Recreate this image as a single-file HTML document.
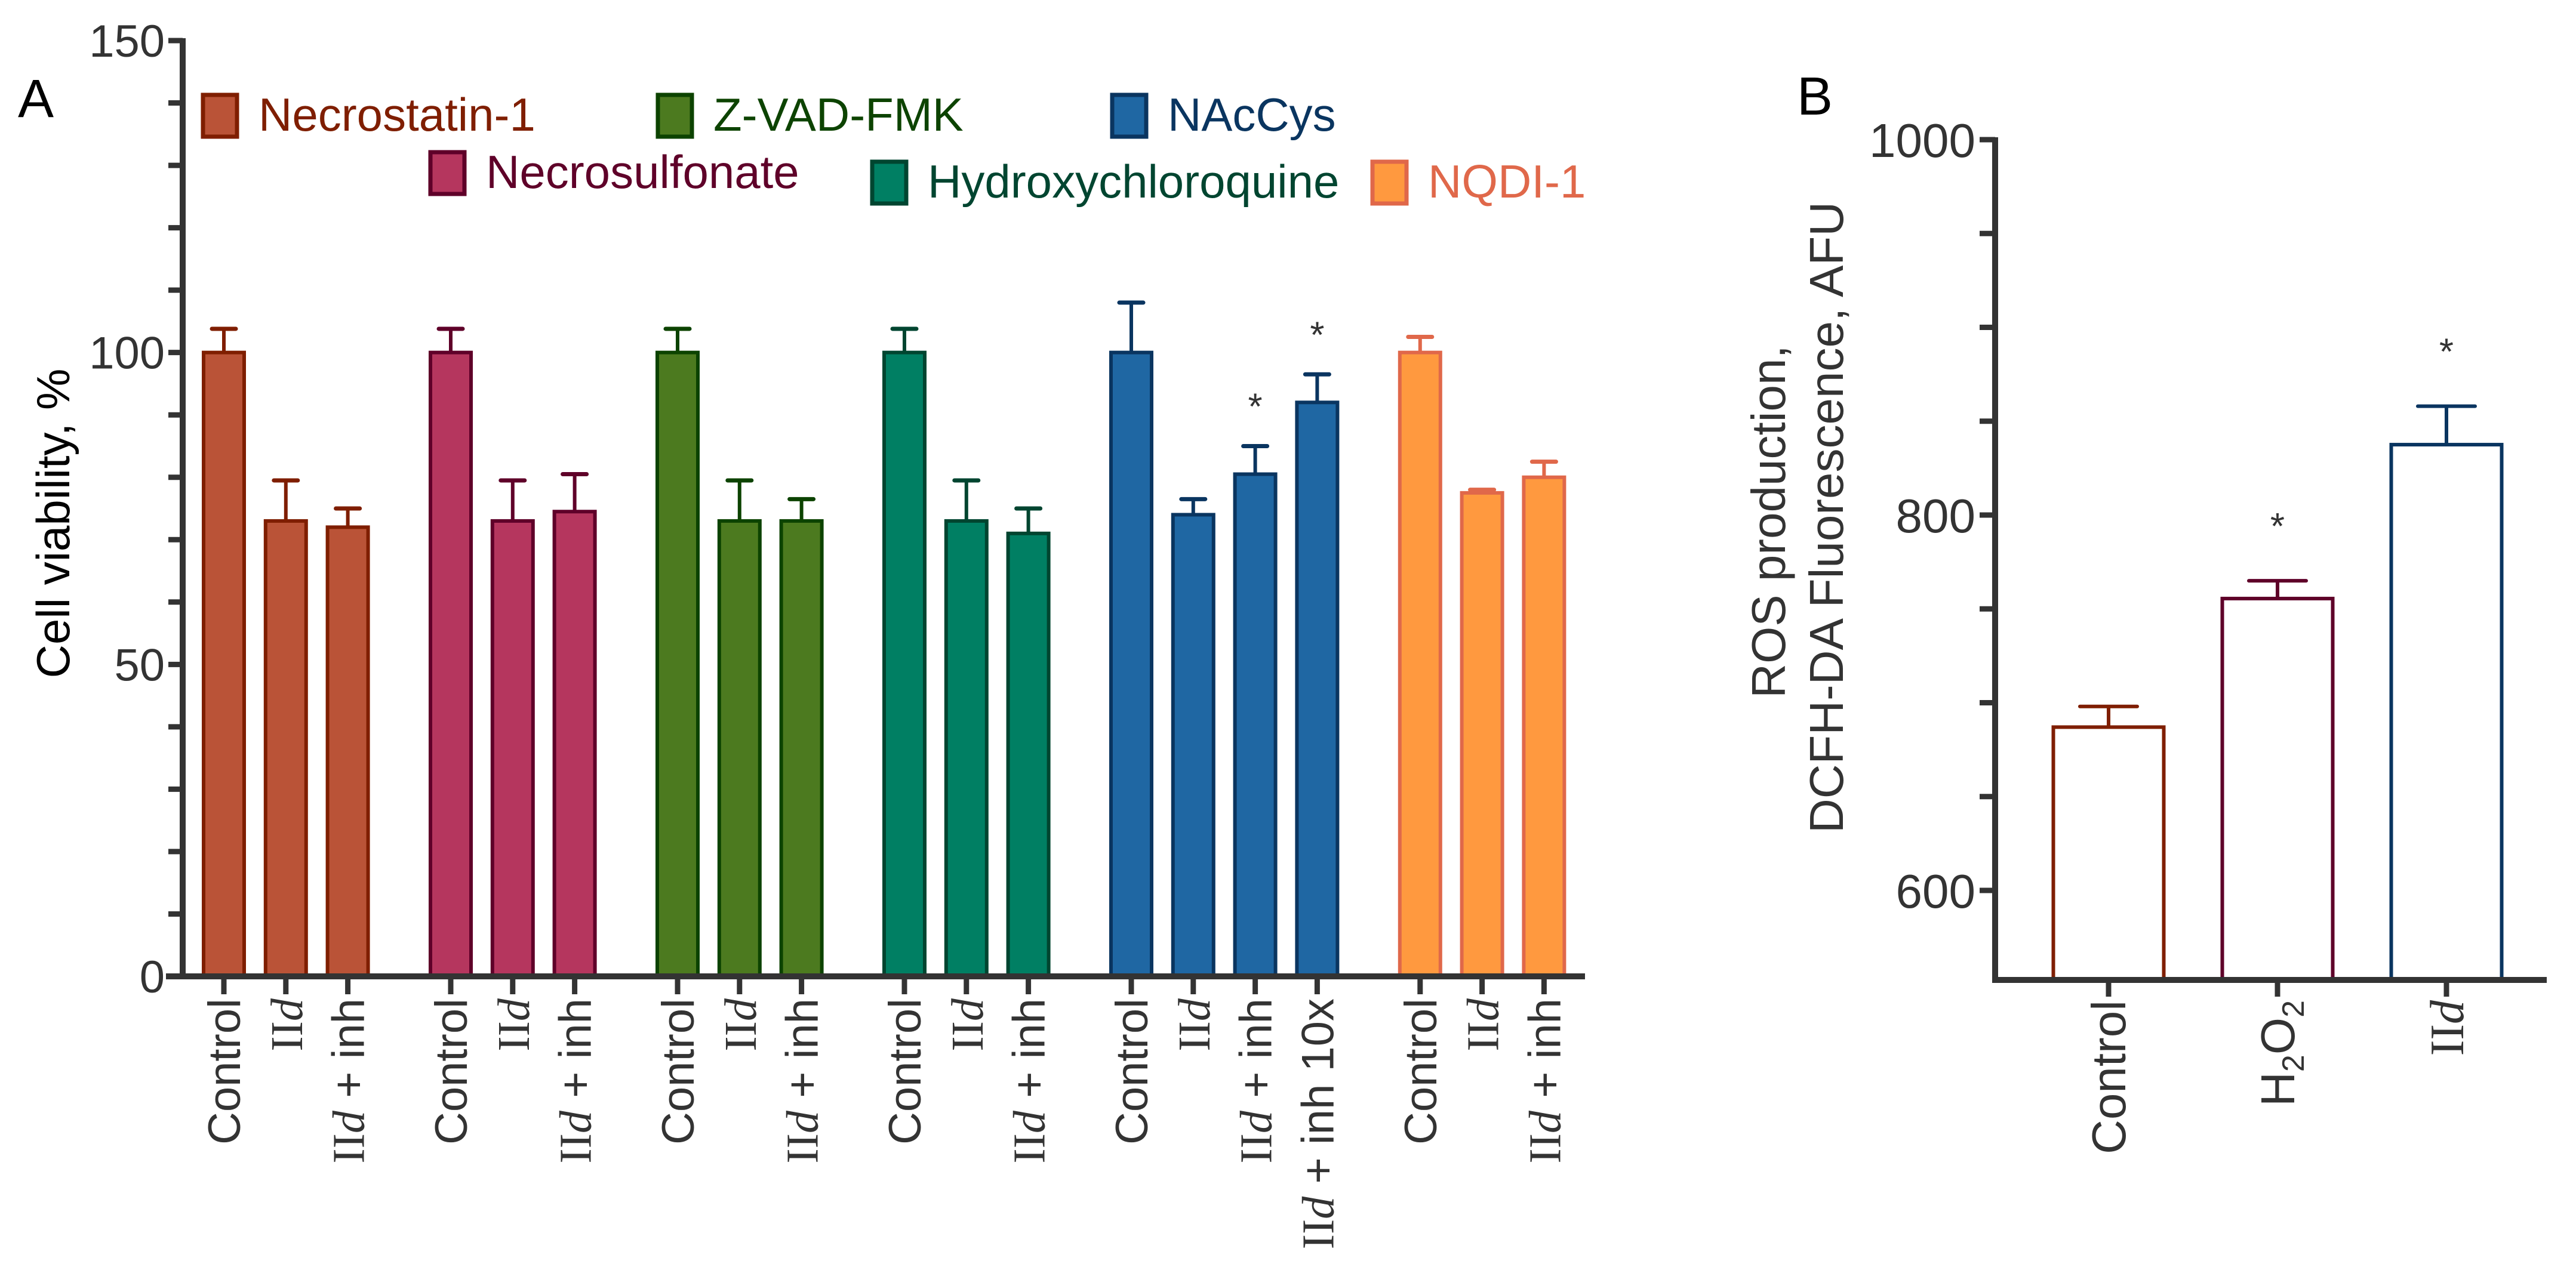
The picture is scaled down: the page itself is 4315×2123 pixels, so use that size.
<!DOCTYPE html>
<html><head><meta charset="utf-8"><style>
html,body{margin:0;padding:0;background:#fff}
svg{display:block}
text{font-family:"Liberation Sans",Arial,sans-serif}
</style></head><body>
<svg id="fig" xmlns="http://www.w3.org/2000/svg" width="4315" height="2123" viewBox="0 0 4315 2123">
<g id="pa"></g>
<g id="pb"></g>
</svg>
<script>
// Panel A data
const groupNames = ["Necrostatin-1","Necrosulfonate","Z-VAD-FMK","Hydroxychloroquine","NAcCys","NQDI-1"];
const groupLabels = [["Control","IId","IId + inh"],["Control","IId","IId + inh"],["Control","IId","IId + inh"],["Control","IId","IId + inh"],["Control","IId","IId + inh","IId + inh 10x"],["Control","IId","IId + inh"]];
const groupMeans = [[100,73,72],[100,73,74.5],[100,73,73],[100,73,71],[100,74,80.5,92],[100,77.5,80]];
const groupErrs = [[3.8,6.5,3],[3.8,6.5,6],[3.8,6.5,3.5],[3.8,6.5,4],[8,2.5,4.5,4.5],[2.5,0.5,2.5]];
const groupStars = [[0,0,0],[0,0,0],[0,0,0],[0,0,0],[0,0,1,1],[0,0,0]];
const yTicksA = [0,50,100,150];
// Panel B data
const bCats = ["Control","H2O2","IId"];
const bMeans = [687,755.5,837.5];
const bErrs = [11,9.5,20.5];
const bStars = [0,1,1];
const yTicksB = [600,800,1000];

const NS="http://www.w3.org/2000/svg";
function mk(tag,attrs,parent){const e=document.createElementNS(NS,tag);for(const k in attrs)e.setAttribute(k,attrs[k]);parent.appendChild(e);return e;}
const fills=["#BA5337","#B5365E","#4C7A1F","#007F63","#1F67A3","#FF993F"];
const strokes=["#7F1E00","#5F0029","#0C4300","#004530","#0A3560","#E0684A"];
const axisC="#333";

function addLabel(parent,txt,x,y,size){
  const t=mk('text',{x:0,y:0,'font-size':size,fill:axisC,'text-anchor':'end',transform:`translate(${x},${y}) rotate(-90)`},parent);
  
  
  const parts=txt.split(/(IId|H2O2)/);
  parts.forEach(p=>{
    if(p==="IId"){
      const a=mk('tspan',{'font-family':'Liberation Serif, serif'},t);a.textContent="II";
      const b=mk('tspan',{'font-family':'Liberation Serif, serif','font-style':'italic'},t);b.textContent="d";
    } else if(p==="H2O2"){
      const a=mk('tspan',{},t);a.textContent="H";
      const b=mk('tspan',{'font-size':size*0.65,dy:size*0.2},t);b.textContent="2";
      const c=mk('tspan',{dy:-size*0.2},t);c.textContent="O";
      const d=mk('tspan',{'font-size':size*0.65,dy:size*0.2},t);d.textContent="2";
    } else if(p){const s=mk('tspan',{},t);s.textContent=p;}
  });
}

// ---------- Panel A ----------
const pa=document.getElementById('pa');
const axA={x:306,y0:1636,yTop:68,min:0,max:150,xEnd:2655};
const yA=v=>axA.y0-(v-axA.min)/(axA.max-axA.min)*(axA.y0-axA.yTop);
const xA=(i,g)=>375+i*103.8+g*68.6;
const bw=68;
// ticks
for(let v=0;v<=150;v+=10){
  const l=mk('line',{x1:axA.x-24,x2:axA.x,y1:yA(v),y2:yA(v),stroke:axisC,'stroke-width':9},pa);
  
  
}
yTicksA.forEach(v=>{
  const t=mk('text',{x:axA.x-30,y:yA(v)+27,'font-size':76,fill:axisC,'text-anchor':'end'},pa);
  
  
  t.textContent=v;
});
let idx=0;
groupMeans.forEach((arr,g)=>{
  arr.forEach((m,k)=>{
    const cx=xA(idx,g);
    const e=groupErrs[g][k];
    const el=mk('line',{x1:cx,x2:cx,y1:yA(m),y2:yA(m+e),stroke:strokes[g],'stroke-width':6},pa);
    
    
    const ec=mk('line',{x1:cx-20,x2:cx+20,y1:yA(m+e),y2:yA(m+e),stroke:strokes[g],'stroke-width':7,'stroke-linecap':'round'},pa);
    
    
    const r=mk('rect',{x:cx-bw/2,y:yA(m),width:bw,height:yA(0)-yA(m),fill:fills[g],stroke:strokes[g],'stroke-width':6},pa);
    
    
    if(groupStars[g][k]){
      const s=mk('text',{x:cx,y:yA(m+e)-45,'font-size':62,fill:axisC,'text-anchor':'middle'},pa);
      
      
      s.textContent="*";
    }
    const tk=mk('line',{x1:cx,x2:cx,y1:axA.y0,y2:axA.y0+30,stroke:axisC,'stroke-width':9},pa);
    
    
    addLabel(pa,groupLabels[g][k],cx+27,1673,76);
    idx++;
  });
});
const ya=mk('line',{x1:axA.x,x2:axA.x,y1:axA.yTop-4,y2:axA.y0+5,stroke:axisC,'stroke-width':10},pa);


const xa=mk('line',{x1:278,x2:axA.xEnd,y1:axA.y0,y2:axA.y0,stroke:axisC,'stroke-width':10},pa);


const yt=mk('text',{x:0,y:0,'font-size':78,fill:'#000','text-anchor':'middle',transform:'translate(116,877) rotate(-90)'},pa);


yt.textContent="Cell viability, %";
const la=mk('text',{x:30,y:196,'font-size':90,fill:'#000'},pa);


la.textContent="A";
// legend
const legPos=[[337,156],[718,252],[1099,156],[1458,268],[1860,156],[2296,268]];
groupNames.forEach((n,g)=>{
  const [lx,ly]=legPos[g];
  const gr=mk('g',{},pa);
  
  
  mk('rect',{x:lx+3,y:ly+3,width:57,height:70,fill:fills[g],stroke:strokes[g],'stroke-width':7},gr);
  const t=mk('text',{x:lx+96,y:ly+63,'font-size':78,fill:strokes[g]},gr);
  t.textContent=n;
});

// ---------- Panel B ----------
const pb=document.getElementById('pb');
const axB={x:3342,y600:1492,y800:863,y0:1642,xEnd:4266};
const yB=v=>axB.y600-(v-600)/200*(axB.y600-axB.y800);
const bxs=i=>3532+i*283;
const bbw=185;
for(let v=550;v<=1000;v+=50){
  if(yB(v)>axB.y0+1)continue;
  const l=mk('line',{x1:axB.x-26,x2:axB.x,y1:yB(v),y2:yB(v),stroke:axisC,'stroke-width':9},pb);
  
  
}
yTicksB.forEach(v=>{
  const t=mk('text',{x:axB.x-33,y:yB(v)+29,'font-size':80,fill:axisC,'text-anchor':'end'},pb);
  
  
  t.textContent=v;
});
const bStroke=["#7F1E00","#5F0029","#0A3560"];
bMeans.forEach((m,i)=>{
  const cx=bxs(i);
  const e=bErrs[i];
  const el=mk('line',{x1:cx,x2:cx,y1:yB(m),y2:yB(m+e),stroke:bStroke[i],'stroke-width':6},pb);
  
  
  const ec=mk('line',{x1:cx-48,x2:cx+48,y1:yB(m+e),y2:yB(m+e),stroke:bStroke[i],'stroke-width':6,'stroke-linecap':'round'},pb);
  
  
  const r=mk('rect',{x:cx-bbw/2,y:yB(m),width:bbw,height:axB.y0-yB(m),fill:'#fff',stroke:bStroke[i],'stroke-width':6},pb);
  
  
  if(bStars[i]){
    const s=mk('text',{x:cx,y:yB(m+e)-70,'font-size':62,fill:axisC,'text-anchor':'middle'},pb);
    
    
    s.textContent="*";
  }
  const tk=mk('line',{x1:cx,x2:cx,y1:axB.y0,y2:axB.y0+28,stroke:axisC,'stroke-width':9},pb);
  
  
  addLabel(pb,bCats[i],cx+28,1676,80);
});
const yb=mk('line',{x1:axB.x,x2:axB.x,y1:yB(1000)-4,y2:axB.y0+5,stroke:axisC,'stroke-width':10},pb);


const xb=mk('line',{x1:axB.x-5,x2:axB.xEnd,y1:axB.y0,y2:axB.y0,stroke:axisC,'stroke-width':10},pb);


const t1=mk('text',{x:0,y:0,'font-size':80,fill:axisC,'text-anchor':'middle',transform:'translate(2990,874) rotate(-90)'},pb);


t1.textContent="ROS production,";
const t2=mk('text',{x:0,y:0,'font-size':80,fill:axisC,'text-anchor':'middle',transform:'translate(3087,867) rotate(-90)'},pb);


t2.textContent="DCFH-DA Fluorescence, AFU";
const lb=mk('text',{x:3010,y:192,'font-size':90,fill:'#000'},pb);


lb.textContent="B";
</script>
</body></html>
